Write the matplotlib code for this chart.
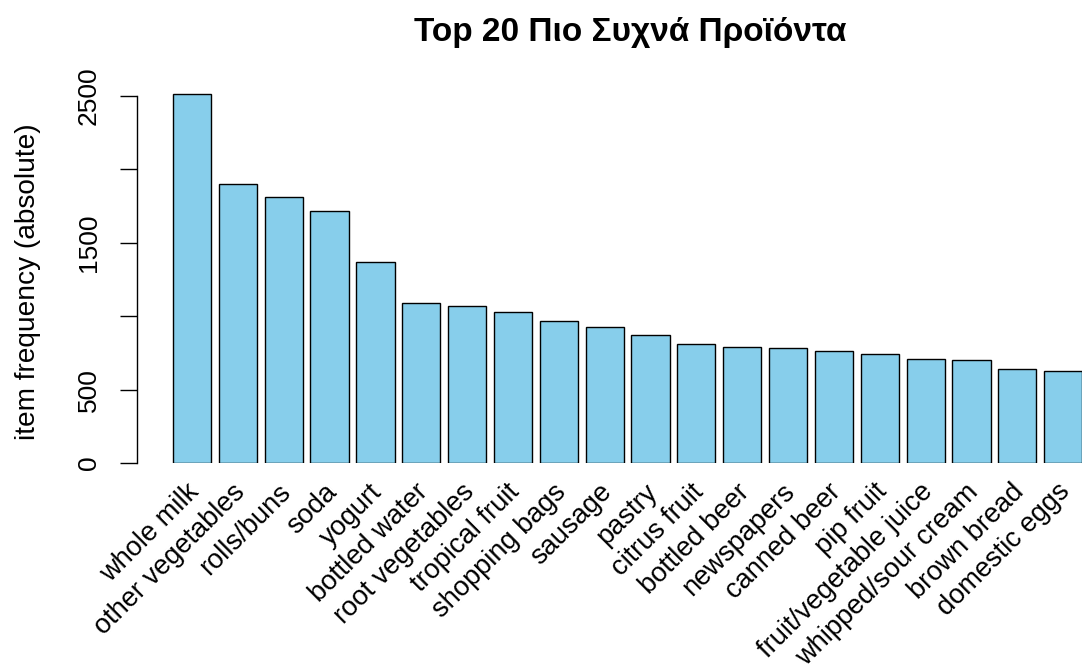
import matplotlib.pyplot as plt
import matplotlib.transforms as mtransforms

# Top 20 item frequencies (Groceries)
items = ["whole milk", "other vegetables", "rolls/buns", "soda", "yogurt",
         "bottled water", "root vegetables", "tropical fruit", "shopping bags",
         "sausage", "pastry", "citrus fruit", "bottled beer", "newspapers",
         "canned beer", "pip fruit", "fruit/vegetable juice",
         "whipped/sour cream", "brown bread", "domestic eggs"]
counts = [2513, 1903, 1809, 1715, 1372, 1087, 1072, 1032, 969, 924,
          875, 814, 792, 785, 764, 744, 711, 705, 638, 624]
yticks = [0, 500, 1000, 1500, 2000, 2500]
ytick_labels = ["0", "500", "", "1500", "", "2500"]

plt.rcParams['font.family'] = ['Liberation Sans', 'DejaVu Sans']

W, H = 1082, 664
fig = plt.figure(figsize=(W / 100, H / 100), dpi=100)
ax = fig.add_axes([137 / W, (H - 463) / H, (W - 137) / W, (463 - 80) / H])

x = list(range(len(items)))
ax.bar(x, counts, width=0.833, color="#87CEEB", edgecolor="black", linewidth=1.0)

ax.set_xlim(-1.2, 19.41)
ax.set_ylim(0, 2500 + 16 / 0.1468)

for s in ["top", "right", "bottom"]:
    ax.spines[s].set_visible(False)
ax.spines["left"].set_bounds(0, 2500)
ax.spines["left"].set_linewidth(1.0)

ax.set_xticks([])
ax.set_yticks(yticks)
ax.set_yticklabels(ytick_labels, rotation=90, va="center", fontsize=19)
ax.tick_params(axis="y", length=12, width=1.0, pad=14)

# rotated category labels
trans = mtransforms.offset_copy(ax.transData, fig=fig, x=3, y=-25, units="dots")
for xi, name in zip(x, items):
    ax.text(xi, 0, name, rotation=45, rotation_mode="anchor", ha="right",
            va="center", fontsize=19.6, transform=trans, clip_on=False)

fig.text(28 / W, 1 - 282 / H, "item frequency (absolute)", rotation=90,
         ha="center", va="center", fontsize=20.2)
fig.text(630 / W, 1 - 32 / H, "Top 20 Πιο Συχνά Προϊόντα", ha="center",
         va="center", fontsize=24, fontweight="bold")

fig.savefig("out.png", dpi=100)
